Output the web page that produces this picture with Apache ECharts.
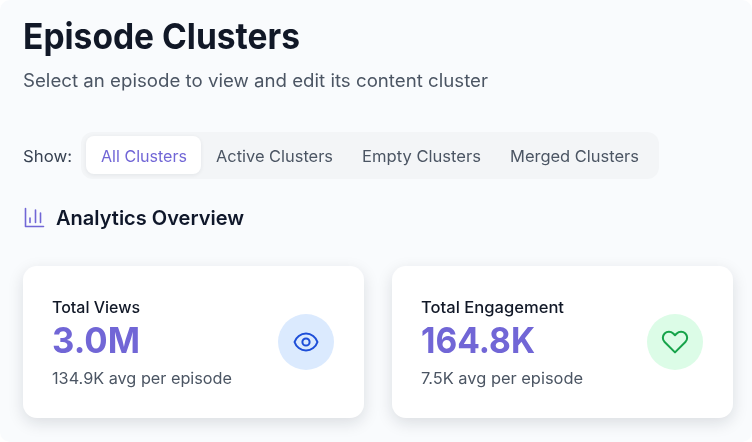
<!DOCTYPE html>
<html>
<head>
<meta charset="utf-8">
<title>Episode Clusters</title>
<style>
  html, body { margin: 0; padding: 0; background: #fff; }
  #main { width: 752px; height: 442px; }
</style>
<script src="https://cdn.jsdelivr.net/npm/echarts@6/dist/echarts.min.js"></script>
</head>
<body>
<div id="main"></div>
<script>
var pageTitle = 'Episode Clusters';
var pageSubtitle = 'Select an episode to view and edit its content cluster';
var showLabel = 'Show:';
var tabNames = ['All Clusters', 'Active Clusters', 'Empty Clusters', 'Merged Clusters'];
var sectionTitle = 'Analytics Overview';
var cardTitles = ['Total Views', 'Total Engagement'];
var cardValues = ['3.0M', '164.8K'];
var cardAverages = ['134.9K avg per episode', '7.5K avg per episode'];

var FONT = 'Inter, "Noto Sans", sans-serif';
var PURPLE = '#7166d6';

// icons, graphic has no plain path type so they get registered as shapes
echarts.graphic.registerShape('eyeIcon', echarts.graphic.extendPath(
    'M15 12a3 3 0 1 1-6 0 3 3 0 0 1 6 0zM2.458 12C3.732 7.943 7.523 5 12 5c4.478 0 8.268 2.943 9.542 7-1.274 4.057-5.064 7-9.542 7-4.477 0-8.268-2.943-9.542-7z'));
echarts.graphic.registerShape('heartIcon', echarts.graphic.extendPath(
    'M4.318 6.318a4.5 4.5 0 0 0 0 6.364L12 20.364l7.682-7.682a4.5 4.5 0 0 0-6.364-6.364L12 7.636l-1.318-1.318a4.5 4.5 0 0 0-6.364 0z'));
echarts.graphic.registerShape('barsIcon', echarts.graphic.extendPath(
    'M1.5 1.5V19.5H19.5M6 11V15.5M11.5 3V15.5M16.5 6V15.5'));

// the reference font is not installed, so each text is stretched to the width it has there
var measure = document.createElement('canvas').getContext('2d');
function label(text, x, y, width, size, weight, color) {
    measure.font = weight + ' ' + size + 'px Inter';
    return {
        type: 'text',
        x: x,
        y: y,
        scaleX: width / measure.measureText(text).width,
        style: {
            text: text,
            fill: color,
            font: weight + ' ' + size + 'px ' + FONT,
            textAlign: 'left',
            textVerticalAlign: 'middle'
        }
    };
}

function box(x, y, w, h, r, fill, shadow) {
    var style = { fill: fill };
    if (shadow) {
        style.shadowColor = shadow[0];
        style.shadowBlur = shadow[1];
        style.shadowOffsetY = shadow[2];
    }
    return { type: 'rect', shape: { x: x, y: y, width: w, height: h, r: r }, style: style };
}

function icon(type, x, y, scale, color, lineWidth) {
    return {
        type: type,
        x: x,
        y: y,
        scaleX: scale,
        scaleY: scale,
        style: { fill: null, stroke: color, lineWidth: lineWidth, lineJoin: 'round', lineCap: 'round' }
    };
}

var elements = [
    box(0, 0, 752, 442, 10, '#f9fbfd'),
    label(pageTitle, 23, 38, 277, 36, 700, '#111827'),
    label(pageSubtitle, 23, 82, 465, 18, 400, '#4b5563'),
    label(showLabel, 23, 157, 49, 16, 400, '#374151'),
    box(81, 132, 578, 47, 12, '#f3f5f7'),
    box(86, 136, 115, 38, 8, '#ffffff', ['rgba(15,23,42,0.07)', 4, 1])
];

var tabX = [101, 216, 362, 510];
var tabW = [86, 117, 119, 129];
tabNames.forEach(function (name, i) {
    elements.push(label(name, tabX[i], 157, tabW[i], 16, 400, i === 0 ? PURPLE : '#4b5563'));
});

elements.push(icon('barsIcon', 24, 207, 1, PURPLE, 1.6));
elements.push(label(sectionTitle, 56, 219, 188, 20, 600, '#0f172a'));

var cardX = [23, 392];
var titleW = [88, 143];
var valueW = [88, 114];
var avgW = [180, 162];
var circleFill = ['#dbeafe', '#dcfce7'];
cardTitles.forEach(function (title, i) {
    var x = cardX[i];
    elements.push(box(x, 266, 341, 152, 14, '#ffffff', ['rgba(15,23,42,0.13)', 16, 5]));
    elements.push(label(title, x + 29, 308, titleW[i], 16, 500, '#111827'));
    elements.push(label(cardValues[i], x + 29, 342, valueW[i], 36, 700, PURPLE));
    elements.push(label(cardAverages[i], x + 29, 379, avgW[i], 16, 400, '#4b5563'));
    elements.push({
        type: 'circle',
        shape: { cx: x + 283, cy: 342, r: 28 },
        style: { fill: circleFill[i] }
    });
});
elements.push(icon('eyeIcon', 291.6, 327.6, 1.2, '#1d4ed8', 1.7));
elements.push(icon('heartIcon', 658.8, 324.9, 1.35, '#16a34a', 1.5));

var myChart = echarts.init(document.getElementById('main'));
myChart.setOption({
    backgroundColor: '#ffffff',
    graphic: { elements: elements }
});
</script>
</body>
</html>
